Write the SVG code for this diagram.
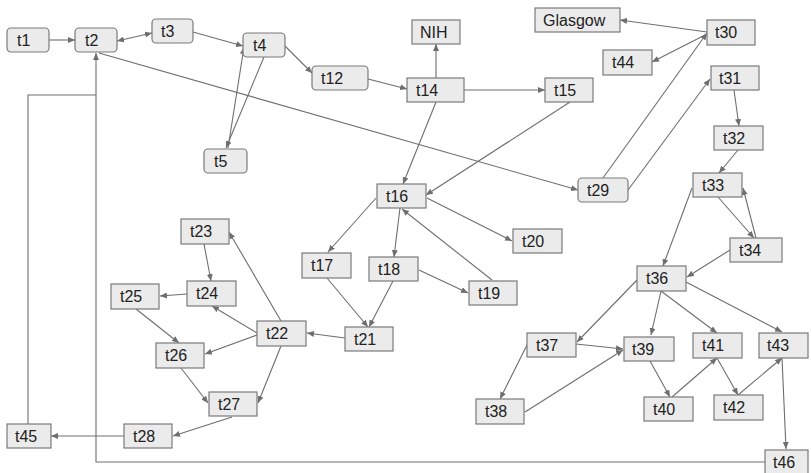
<svg xmlns="http://www.w3.org/2000/svg" width="811" height="473" viewBox="0 0 811 473">
  <style>
    .n rect { fill: #ebebeb; stroke: #7a7a7a; stroke-width: 1.2; }
    .n text { font-family: "Liberation Sans", Arial, sans-serif; font-size: 16px; fill: #222; }
    .e path { fill: none; stroke: #6e6e6e; stroke-width: 1.1; }
    .e .a { marker-end: url(#arr); }
  </style>
  <defs>
    <marker id="arr" markerUnits="userSpaceOnUse" markerWidth="8" markerHeight="6" refX="7" refY="3" orient="auto">
      <path d="M0,0 L7,3 L0,6 Z" fill="#6e6e6e"/>
    </marker>
    <marker id="arrs" markerUnits="userSpaceOnUse" markerWidth="8" markerHeight="6" refX="1" refY="3" orient="auto">
      <path d="M8,0 L1,3 L8,6 Z" fill="#6e6e6e"/>
    </marker>
  </defs>
  <rect width="811" height="473" fill="#ffffff"/>

  <!-- connectors -->
  <g id="edges" class="e">
    <path class="a" d="M49,40 L75,40"/>
    <path class="a" d="M117,41 L152,33" marker-start="url(#arrs)"/>
    <path class="a" d="M193,32 L243,46"/>
    <path class="a" d="M285,46 L312,73"/>
    <path class="a" d="M228,148 L244,47"/>
    <path class="a" d="M264,57 L226,148"/>
    <path class="a" d="M368,79 L407,89"/>
    <path class="a" d="M436,78 L436,44"/>
    <path class="a" d="M464,90 L545,90"/>
    <path class="a" d="M436,102 L403,184"/>
    <path class="a" d="M570,102 L426,195"/>
    <path class="a" d="M99,53 L578,190"/>
    <path class="a" d="M603,178 L707,33"/>
    <path class="a" d="M628,190 L710,79"/>
    <path class="a" d="M707,32 L620,20"/>
    <path class="a" d="M707,34 L652,62"/>
    <path class="a" d="M734,90 L739,126"/>
    <path class="a" d="M738,150 L719,173"/>
    <path class="a" d="M718,197 L754,238"/>
    <path class="a" d="M756,238 L743,188"/>
    <path class="a" d="M692,188 L663,266"/>
    <path class="a" d="M730,250 L687,277"/>
    <path class="a" d="M637,280 L577,342"/>
    <path class="a" d="M661,291 L651,335"/>
    <path class="a" d="M661,291 L717,333"/>
    <path class="a" d="M686,282 L782,332"/>
    <path class="a" d="M576,344 L623,349"/>
    <path class="a" d="M527,345 L500,399"/>
    <path class="a" d="M525,412 L623,350"/>
    <path class="a" d="M650,361 L670,397"/>
    <path class="a" d="M672,397 L717,358"/>
    <path class="a" d="M717,358 L738,395"/>
    <path class="a" d="M738,395 L782,358"/>
    <path class="a" d="M782,358 L786,449"/>
    <path class="a" d="M765,462 L96,462 L96,53"/>
    <path d="M28,424 L28,95 L96,95"/>
    <path class="a" d="M124,436 L51,436"/>
    <path class="a" d="M232,417 L173,436"/>
    <path class="a" d="M181,368 L208,403"/>
    <path class="a" d="M281,346 L258,403"/>
    <path class="a" d="M281,321 L229,232"/>
    <path class="a" d="M257,333 L212,306"/>
    <path class="a" d="M257,335 L205,354"/>
    <path class="a" d="M345,338 L307,333"/>
    <path class="a" d="M204,244 L211,281"/>
    <path class="a" d="M187,294 L160,296"/>
    <path class="a" d="M136,309 L179,343"/>
    <path class="a" d="M327,278 L368,327"/>
    <path class="a" d="M393,281 L369,327"/>
    <path class="a" d="M376,198 L328,252"/>
    <path class="a" d="M400,208 L394,257"/>
    <path class="a" d="M427,198 L512,241"/>
    <path class="a" d="M419,270 L468,293"/>
    <path class="a" d="M492,280 L402,209"/>
  </g>

  <!-- nodes -->
  <g id="t1" class="n"><rect x="7" y="28" width="42" height="24" rx="4"/><text x="17" y="46">t1</text></g>
  <g id="t2" class="n"><rect x="75" y="28" width="42" height="24" rx="4"/><text x="85" y="46">t2</text></g>
  <g id="t3" class="n"><rect x="152" y="19" width="41" height="24" rx="4"/><text x="161" y="37">t3</text></g>
  <g id="t4" class="n"><rect x="243" y="33" width="42" height="24" rx="4"/><text x="253" y="51">t4</text></g>
  <g id="t5" class="n"><rect x="204" y="149" width="43" height="24" rx="4"/><text x="214" y="167">t5</text></g>
  <g id="t12" class="n"><rect x="312" y="66" width="56" height="24" rx="4"/><text x="321" y="84">t12</text></g>
  <g id="NIH" class="n"><rect x="412" y="20" width="48" height="24"/><text x="420" y="38">NIH</text></g>
  <g id="t14" class="n"><rect x="407" y="78" width="57" height="24"/><text x="416" y="96">t14</text></g>
  <g id="t15" class="n"><rect x="545" y="78" width="48" height="24"/><text x="554" y="96">t15</text></g>
  <g id="Glasgow" class="n"><rect x="535" y="8" width="85" height="24"/><text x="543" y="26">Glasgow</text></g>
  <g id="t30" class="n"><rect x="707" y="20" width="48" height="25"/><text x="715" y="38">t30</text></g>
  <g id="t44" class="n"><rect x="603" y="50" width="49" height="25"/><text x="612" y="68">t44</text></g>
  <g id="t31" class="n"><rect x="711" y="66" width="48" height="24"/><text x="719" y="84">t31</text></g>
  <g id="t32" class="n"><rect x="714" y="126" width="49" height="24"/><text x="723" y="144">t32</text></g>
  <g id="t33" class="n"><rect x="693" y="173" width="49" height="24"/><text x="702" y="191">t33</text></g>
  <g id="t29" class="n"><rect x="578" y="178" width="50" height="24" rx="4"/><text x="587" y="196">t29</text></g>
  <g id="t16" class="n"><rect x="377" y="184" width="49" height="24"/><text x="386" y="202">t16</text></g>
  <g id="t20" class="n"><rect x="513" y="229" width="49" height="24"/><text x="522" y="247">t20</text></g>
  <g id="t17" class="n"><rect x="302" y="253" width="49" height="25"/><text x="311" y="271">t17</text></g>
  <g id="t18" class="n"><rect x="369" y="257" width="49" height="24"/><text x="378" y="275">t18</text></g>
  <g id="t19" class="n"><rect x="469" y="281" width="48" height="24"/><text x="478" y="299">t19</text></g>
  <g id="t23" class="n"><rect x="181" y="219" width="48" height="25"/><text x="190" y="237">t23</text></g>
  <g id="t24" class="n"><rect x="187" y="281" width="49" height="25"/><text x="196" y="299">t24</text></g>
  <g id="t25" class="n"><rect x="111" y="284" width="48" height="25"/><text x="120" y="302">t25</text></g>
  <g id="t22" class="n"><rect x="257" y="321" width="49" height="25"/><text x="266" y="339">t22</text></g>
  <g id="t21" class="n"><rect x="345" y="327" width="48" height="24"/><text x="354" y="345">t21</text></g>
  <g id="t26" class="n"><rect x="156" y="343" width="48" height="25"/><text x="165" y="361">t26</text></g>
  <g id="t27" class="n"><rect x="209" y="392" width="48" height="24"/><text x="218" y="410">t27</text></g>
  <g id="t28" class="n"><rect x="124" y="424" width="48" height="24"/><text x="133" y="442">t28</text></g>
  <g id="t45" class="n"><rect x="7" y="424" width="44" height="24"/><text x="15" y="442">t45</text></g>
  <g id="t34" class="n"><rect x="730" y="238" width="52" height="24"/><text x="739" y="256">t34</text></g>
  <g id="t36" class="n"><rect x="637" y="266" width="49" height="25"/><text x="646" y="284">t36</text></g>
  <g id="t37" class="n"><rect x="527" y="333" width="49" height="24"/><text x="536" y="351">t37</text></g>
  <g id="t39" class="n"><rect x="624" y="337" width="50" height="24"/><text x="632" y="355">t39</text></g>
  <g id="t41" class="n"><rect x="693" y="333" width="49" height="25"/><text x="702" y="351">t41</text></g>
  <g id="t43" class="n"><rect x="759" y="333" width="49" height="25"/><text x="767" y="351">t43</text></g>
  <g id="t38" class="n"><rect x="476" y="399" width="48" height="25"/><text x="485" y="417">t38</text></g>
  <g id="t40" class="n"><rect x="644" y="397" width="49" height="24"/><text x="653" y="415">t40</text></g>
  <g id="t42" class="n"><rect x="714" y="395" width="49" height="25"/><text x="723" y="413">t42</text></g>
  <g id="t46" class="n"><rect x="765" y="450" width="43" height="26"/><text x="773" y="468">t46</text></g>
</svg>
